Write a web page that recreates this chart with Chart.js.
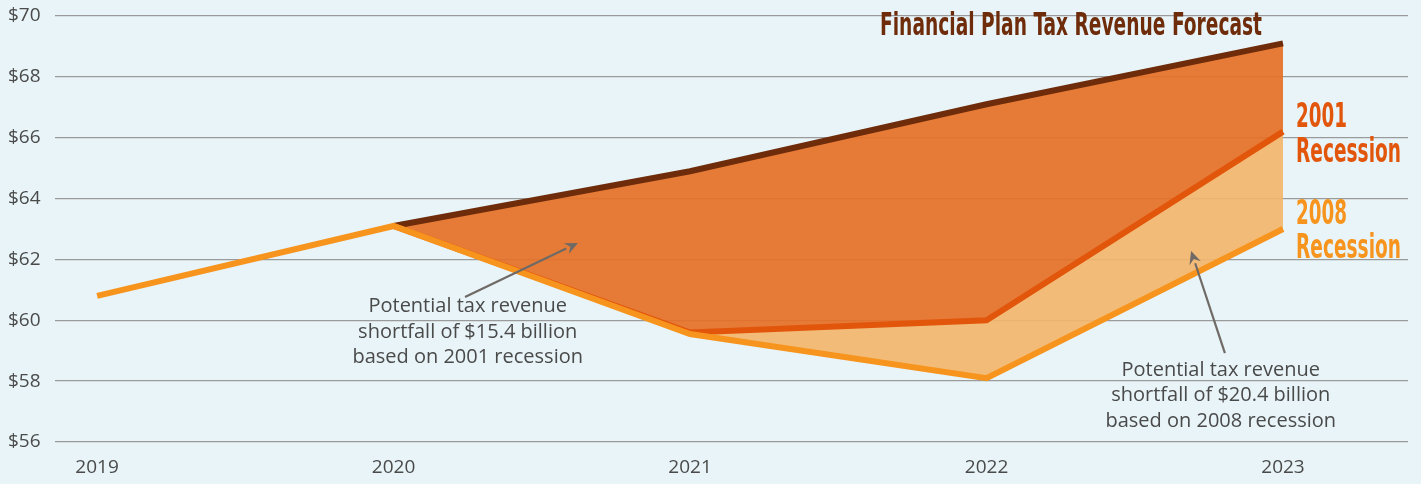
<!DOCTYPE html>
<html>
<head>
<meta charset="utf-8">
<script src="https://cdn.jsdelivr.net/npm/chart.js@4"></script>
<style>
  html, body { margin: 0; padding: 0; background: #E8F4F8; }
  #wrap { width: 1421px; height: 484px; position: relative; }
</style>
</head>
<body>
<div id="wrap"><canvas id="c" width="1421" height="484"></canvas></div>
<script>
// ---- data ----
const years = [2019, 2020, 2021, 2022, 2023];
const planForecast = [null, 63.1, 64.9, 67.1, 69.1];
const recession2001 = [null, 63.1, 59.6, 60.0, 66.2];
const recession2008 = [60.8, 63.1, 59.55, 58.1, 63.0];
const yTicks = [56, 58, 60, 62, 64, 66, 68, 70];
const seriesNames = ['Financial Plan Tax Revenue Forecast', '2001 Recession', '2008 Recession'];
const note2001 = ['Potential tax revenue', 'shortfall of $15.4 billion', 'based on 2001 recession'];
const note2008 = ['Potential tax revenue', 'shortfall of $20.4 billion', 'based on 2008 recession'];

const toPts = arr => arr.map((v, i) => ({ x: years[i], y: v }));

const BG = '#E8F4F8';
const TEXT = '#4a4a4a';
const BODY_FONT = '"Open Sans", Lato, sans-serif';
const COND_FONT = '"Liberation Sans Narrow", "DejaVu Sans Condensed", sans-serif';

function drawFit(ctx, text, x, baseline, capH, targetW, color, align) {
  const size = capH / 0.72;
  ctx.save();
  ctx.font = 'bold ' + size + 'px ' + COND_FONT;
  const w = ctx.measureText(text).width;
  const sx = targetW / w;
  ctx.fillStyle = color;
  ctx.textBaseline = 'alphabetic';
  ctx.textAlign = 'left';
  const left = align === 'right' ? x - targetW : x;
  ctx.translate(left, baseline);
  ctx.scale(sx, 1);
  ctx.fillText(text, 0, 0);
  ctx.restore();
}

function arrow(ctx, x1, y1, x2, y2) {
  ctx.save();
  ctx.strokeStyle = '#6f6a66';
  ctx.fillStyle = '#6f6a66';
  ctx.lineWidth = 2.2;
  const ang = Math.atan2(y2 - y1, x2 - x1);
  const hl = 13, hw = 6;
  const bx = x2 - hl * Math.cos(ang), by = y2 - hl * Math.sin(ang);
  ctx.beginPath();
  ctx.moveTo(x1, y1);
  ctx.lineTo(bx, by);
  ctx.stroke();
  ctx.beginPath();
  ctx.moveTo(x2, y2);
  ctx.lineTo(bx + hw * Math.sin(ang), by - hw * Math.cos(ang));
  ctx.lineTo(x2 - 0.65 * hl * Math.cos(ang), y2 - 0.65 * hl * Math.sin(ang));
  ctx.lineTo(bx - hw * Math.sin(ang), by + hw * Math.cos(ang));
  ctx.closePath();
  ctx.fill();
  ctx.restore();
}

const annotations = {
  id: 'annotations',
  beforeDraw(chart) {
    const ctx = chart.ctx;
    ctx.save();
    ctx.fillStyle = BG;
    ctx.fillRect(0, 0, chart.width, chart.height);
    ctx.restore();
  },
  afterDraw(chart) {
    const ctx = chart.ctx;
    const xs = chart.scales.x, ys = chart.scales.y;
    const X = v => xs.getPixelForValue(v);
    const Y = v => ys.getPixelForValue(v);
    // series labels
    drawFit(ctx, seriesNames[0], X(2023) - 21, Y(69.4) + 1, 23, 382, '#6E2C0B', 'right');
    drawFit(ctx, '2001', X(2023) + 13, Y(66.2) - 5, 24, 51, '#E2560C', 'left');
    drawFit(ctx, 'Recession', X(2023) + 13, Y(66.2) + 30, 24, 105, '#E2560C', 'left');
    drawFit(ctx, '2008', X(2023) + 13, Y(63.0) - 5, 24, 51, '#F7941D', 'left');
    drawFit(ctx, 'Recession', X(2023) + 13, Y(63.0) + 29, 24, 105, '#F7941D', 'left');

    // notes
    ctx.save();
    ctx.fillStyle = TEXT;
    ctx.font = '20px ' + BODY_FONT;
    ctx.textAlign = 'center';
    ctx.textBaseline = 'middle';
    const n1x = X(2020.25);
    note2001.forEach((t, i) => ctx.fillText(t, n1x, Y(60.45) + i * 25.5));
    const n2x = X(2022.79);
    note2008.forEach((t, i) => ctx.fillText(t, n2x, Y(58.37) + i * 25.5));
    ctx.restore();

    arrow(ctx, X(2020.241), Y(60.765), X(2020.622), Y(62.54));
    arrow(ctx, X(2022.804), Y(58.92), X(2022.69), Y(62.28));
  }
};

Chart.defaults.font.family = BODY_FONT;

new Chart(document.getElementById('c'), {
  type: 'line',
  data: {
    datasets: [
      {
        label: seriesNames[0],
        data: toPts(planForecast),
        borderColor: '#6E2C0B',
        backgroundColor: 'rgba(229,112,38,0.92)',
        borderWidth: 6,
        fill: '+1',
        order: 2,
        pointRadius: 0,
        tension: 0,
        borderCapStyle: 'butt',
        borderJoinStyle: 'miter'
      },
      {
        label: seriesNames[1],
        data: toPts(recession2001),
        borderColor: '#E2560C',
        backgroundColor: 'rgba(243,181,108,0.92)',
        borderWidth: 6,
        fill: '+1',
        order: 1,
        pointRadius: 0,
        tension: 0,
        borderCapStyle: 'butt',
        borderJoinStyle: 'miter'
      },
      {
        label: seriesNames[2],
        data: toPts(recession2008),
        borderColor: '#F7941D',
        backgroundColor: 'transparent',
        borderWidth: 6,
        fill: false,
        order: 0,
        pointRadius: 0,
        tension: 0,
        borderCapStyle: 'butt',
        borderJoinStyle: 'miter'
      }
    ]
  },
  options: {
    responsive: false,
    animation: false,
    events: [],
    layout: { padding: { left: 8, right: 13, top: 16, bottom: 0 } },
    plugins: {
      legend: { display: false },
      tooltip: { enabled: false },
      filler: { drawTime: 'beforeDatasetsDraw' }
    },
    scales: {
      x: {
        type: 'linear',
        min: 2018.858,
        max: 2023.4216,
        grid: { display: false, drawTicks: false },
        border: { display: false },
        afterBuildTicks: s => { s.ticks = years.map(v => ({ value: v })); },
        afterFit: s => { s.height = 42; },
        ticks: {
          color: TEXT,
          font: { size: 19 },
          padding: 14,
          maxRotation: 0,
          callback: v => String(v)
        }
      },
      y: {
        min: 56,
        max: 70,
        grid: { color: '#9a9a9a', lineWidth: 1.3, drawTicks: false },
        border: { display: false },
        afterBuildTicks: s => { s.ticks = yTicks.map(v => ({ value: v })); },
        afterFit: s => { s.width = 47; },
        ticks: {
          color: TEXT,
          font: { size: 19 },
          crossAlign: 'far',
          callback: v => '$' + v
        }
      }
    }
  },
  plugins: [annotations]
});
</script>
</body>
</html>
